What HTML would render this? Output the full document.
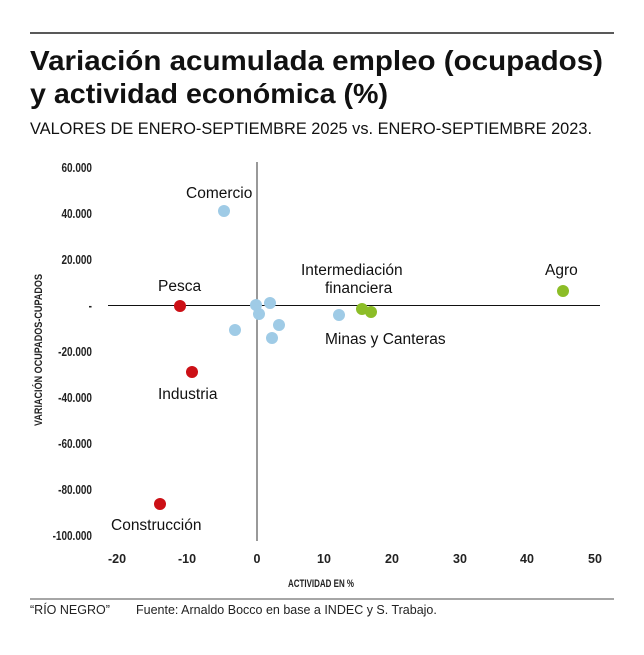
<!DOCTYPE html>
<html><head><meta charset="utf-8"><style>
body{margin:0;background:#fff;width:644px;height:650px;overflow:hidden;font-family:"Liberation Sans",sans-serif;}
</style></head><body>
<svg width="644" height="650" xmlns="http://www.w3.org/2000/svg" font-family="Liberation Sans, sans-serif">
<line x1="30" y1="33" x2="614" y2="33" stroke="#222" stroke-width="1.5"/>
<text x="30" y="70" font-size="28" font-weight="bold" fill="#111" textLength="573" lengthAdjust="spacingAndGlyphs">Variación acumulada empleo (ocupados)</text>
<text x="30" y="103" font-size="28" font-weight="bold" fill="#111" textLength="358" lengthAdjust="spacingAndGlyphs">y actividad económica (%)</text>
<text x="30" y="134" font-size="16.5" fill="#111" textLength="562" lengthAdjust="spacingAndGlyphs">VALORES DE ENERO-SEPTIEMBRE 2025 vs. ENERO-SEPTIEMBRE 2023.</text>
<g font-size="12.5" font-weight="bold" fill="#222" text-anchor="end" transform="scale(0.8,1)">
<text x="115" y="172">60.000</text>
<text x="115" y="218">40.000</text>
<text x="115" y="264">20.000</text>
<text x="115" y="310">-</text>
<text x="115" y="356">-20.000</text>
<text x="115" y="402">-40.000</text>
<text x="115" y="448">-60.000</text>
<text x="115" y="494">-80.000</text>
<text x="115" y="540">-100.000</text>
</g>
<g font-size="12.5" font-weight="bold" fill="#222" text-anchor="middle">
<text x="117" y="563">-20</text><text x="187" y="563">-10</text><text x="257" y="563">0</text>
<text x="324" y="563">10</text><text x="392" y="563">20</text><text x="460" y="563">30</text>
<text x="527" y="563">40</text><text x="595" y="563">50</text>
</g>
<text x="288" y="587" font-size="11" font-weight="bold" fill="#222" textLength="66" lengthAdjust="spacingAndGlyphs">ACTIVIDAD EN %</text>
<text transform="translate(42,350) rotate(-90)" font-size="11" font-weight="bold" fill="#222" text-anchor="middle" textLength="152" lengthAdjust="spacingAndGlyphs">VARIACIÓN OCUPADOS-CUPADOS</text>
<line x1="257" y1="162" x2="257" y2="541" stroke="#333" stroke-width="1"/>
<line x1="108" y1="305.5" x2="600" y2="305.5" stroke="#111" stroke-width="1"/>
<g fill="#9fcbe6">
<circle cx="224" cy="211" r="6"/><circle cx="256" cy="305" r="6"/><circle cx="270" cy="303" r="6"/>
<circle cx="259" cy="314" r="6"/><circle cx="235" cy="330" r="6"/><circle cx="279" cy="325" r="6"/>
<circle cx="272" cy="338" r="6"/><circle cx="339" cy="315" r="6"/>
</g>
<g fill="#cc1016">
<circle cx="180" cy="306" r="6"/><circle cx="192" cy="372" r="6"/><circle cx="160" cy="504" r="6"/>
</g>
<g fill="#8cbd27">
<circle cx="362" cy="309" r="6"/><circle cx="371" cy="312" r="6"/><circle cx="563" cy="291" r="6"/>
</g>
<g font-size="15.5" fill="#111">
<text x="186" y="198">Comercio</text>
<text x="158" y="291">Pesca</text>
<text x="158" y="399">Industria</text>
<text x="111" y="530">Construcción</text>
<text x="301" y="275">Intermediación</text>
<text x="325" y="293">financiera</text>
<text x="325" y="344">Minas y Canteras</text>
<text x="545" y="275">Agro</text>
</g>
<line x1="30" y1="599" x2="614" y2="599" stroke="#888" stroke-width="1.5"/>
<text x="30" y="614" font-size="12.5" fill="#222">“RÍO NEGRO”</text>
<text x="136" y="614" font-size="12.5" fill="#222">Fuente: Arnaldo Bocco en base a INDEC y S. Trabajo.</text>
</svg>
</body></html>
